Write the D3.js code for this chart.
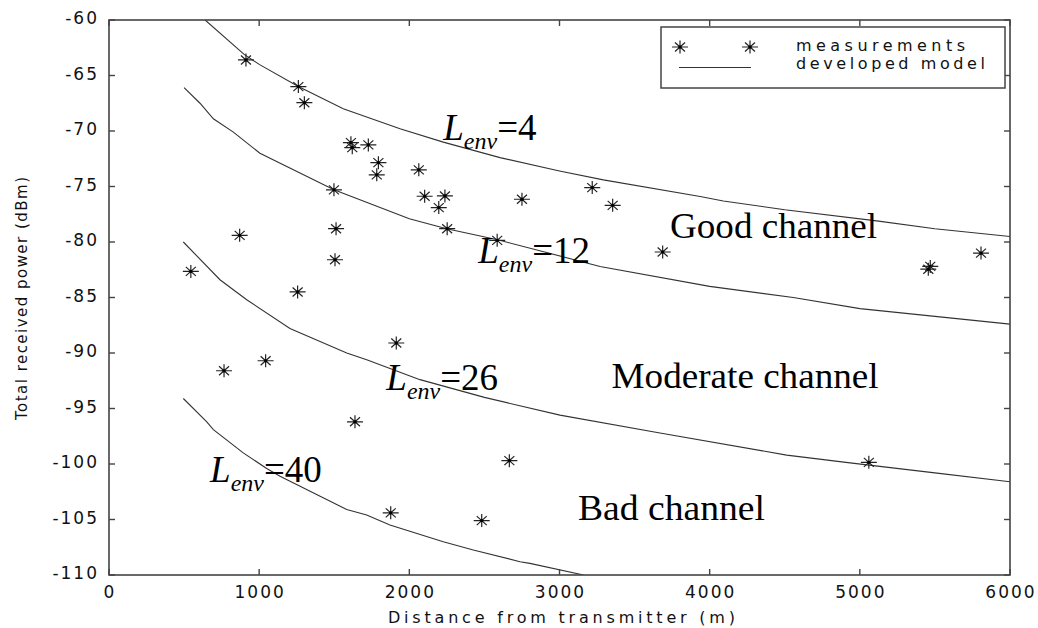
<!DOCTYPE html>
<html lang="en">
<head>
<meta charset="UTF-8">
<title>Total received power vs distance</title>
<script src="https://d3js.org/d3.v7.min.js"></script>
<style>
    body { margin: 0; background: #fff; }
    svg { display: block; }
    .tick-label { font-family: "DejaVu Sans", sans-serif; font-size: 17px; fill: #111; letter-spacing: 2px; }
    .sans { font-family: "DejaVu Sans", sans-serif; fill: #111; }
    .serif { font-family: "Liberation Serif", "Times New Roman", serif; fill: #000; }
</style>
</head>
<body>
<div id="chart"></div>
<script>
// measurement points: distance (m), received power (dBm)
const measDist = [912, 1261, 1301, 1611, 1620, 1727, 1794, 1783, 2063, 1498, 2102, 2237, 2196, 2252, 1512,
    870, 1505, 545, 2585, 2750, 3218, 3354, 3687, 1913, 1638, 2666, 1876, 2482, 5469, 5456, 5807, 5060,
    766, 1043, 1256];
const measPower = [-63.6, -66.0, -67.45, -71.05, -71.5, -71.25, -72.85, -73.95, -73.5, -75.3, -75.88, -75.85, -76.9, -78.8, -78.8,
    -79.4, -81.6, -82.65, -79.85, -76.15, -75.1, -76.7, -80.9, -89.1, -96.2, -99.7, -104.4, -105.1, -82.2, -82.45, -81.0, -99.85,
    -91.6, -90.7, -84.5];

// developed model curves
const envValues = [4, 12, 26, 40];
const modelDist = [
    [640, 900, 1000, 1261, 1560, 1938, 2226, 2604, 3000, 3292, 3937, 4091, 4500, 5112, 5500, 6000],
    [500, 606, 695, 828, 1005, 1498, 2000, 2249, 2588, 3270, 4000, 4557, 5001, 6000],
    [495, 739, 917, 1205, 1583, 1716, 2071, 2500, 3003, 3669, 4513, 4935, 5500, 6000],
    [495, 651, 695, 894, 1050, 1139, 1583, 1716, 1871, 2226, 2426, 2737, 2803, 3160]
];
const modelPower = [
    [-60, -63.1, -64.0, -66.0, -68.0, -69.8, -71.0, -72.4, -73.6, -74.4, -75.9, -76.3, -77.1, -78.1, -78.8, -79.5],
    [-66.1, -67.5, -68.9, -70.1, -72.0, -75.3, -77.9, -78.8, -79.8, -82.2, -84.0, -85.0, -86.0, -87.4],
    [-80.0, -83.4, -85.2, -87.8, -90.0, -90.6, -92.4, -94.0, -95.6, -97.2, -99.2, -99.9, -100.8, -101.6],
    [-94.1, -96.2, -96.9, -99.0, -100.4, -101.1, -104.1, -104.6, -105.5, -107.0, -107.75, -108.8, -108.95, -110]
];
// where each L_env label sits (data units: distance, power at baseline)
const envLabelDist = [2226, 2459, 1847, 673];
const envLabelPower = [-70.8, -81.9, -93.3, -101.6];

const channelNames = ["Good channel", "Moderate channel", "Bad channel"];
const channelDist = [3736, 3347, 3123];
const channelPower = [-79.67, -93.18, -105.0];

const xTicks = [0, 1000, 2000, 3000, 4000, 5000, 6000];
const yTicks = [-110, -105, -100, -95, -90, -85, -80, -75, -70, -65, -60];

const W = 1038, H = 628;
const m = { left: 109, top: 20, right: 1010, bottom: 575 };

const x = d3.scaleLinear().domain([0, 6000]).range([m.left, m.right]);
const y = d3.scaleLinear().domain([-110, -60]).range([m.bottom, m.top]);

const svg = d3.select("#chart").append("svg")
    .attr("width", W).attr("height", H);

svg.append("defs").append("clipPath").attr("id", "plot-clip")
    .append("rect")
    .attr("x", m.left).attr("y", m.top)
    .attr("width", m.right - m.left).attr("height", m.bottom - m.top);

// model lines
const line = d3.line().x(d => x(d[0])).y(d => y(d[1]));
svg.append("g").attr("clip-path", "url(#plot-clip)")
    .selectAll("path")
    .data(modelDist.map((ds, i) => ds.map((d, j) => [d, modelPower[i][j]])))
    .join("path")
    .attr("d", line)
    .attr("fill", "none")
    .attr("stroke", "#333")
    .attr("stroke-width", 1.1);

// asterisk marker
function star(sel) {
    sel.append("path")
        .attr("d", "M-8,0H8M0,-6.5V6.5M-5,-4.5L5,4.5M-5,4.5L5,-4.5")
        .attr("stroke", "#222").attr("stroke-width", 1.2).attr("fill", "none");
    sel.append("circle").attr("r", 1.6).attr("fill", "#000");
}

svg.append("g")
    .selectAll("g")
    .data(measDist.map((d, i) => [d, measPower[i]]))
    .join("g")
    .attr("transform", d => `translate(${x(d[0])},${y(d[1])})`)
    .call(star);

// frame and inward ticks on all four sides
const axisCol = "#444";
svg.append("rect")
    .attr("x", m.left).attr("y", m.top)
    .attr("width", m.right - m.left).attr("height", m.bottom - m.top)
    .attr("fill", "none").attr("stroke", axisCol).attr("stroke-width", 1.6);

const ticks = svg.append("g").attr("stroke", axisCol).attr("stroke-width", 1.4);
xTicks.forEach(t => {
    ticks.append("line").attr("x1", x(t)).attr("x2", x(t)).attr("y1", m.bottom).attr("y2", m.bottom - 6);
    ticks.append("line").attr("x1", x(t)).attr("x2", x(t)).attr("y1", m.top).attr("y2", m.top + 6);
});
yTicks.forEach(t => {
    ticks.append("line").attr("x1", m.left).attr("x2", m.left + 6).attr("y1", y(t)).attr("y2", y(t));
    ticks.append("line").attr("x1", m.right).attr("x2", m.right - 6).attr("y1", y(t)).attr("y2", y(t));
});

svg.append("g").selectAll("text")
    .data(xTicks).join("text")
    .attr("class", "tick-label")
    .attr("x", d => x(d) + 1).attr("y", m.bottom + 23)
    .attr("text-anchor", "middle")
    .text(d => d);

svg.append("g").selectAll("text")
    .data(yTicks).join("text")
    .attr("class", "tick-label")
    .attr("x", m.left - 10).attr("y", d => y(d) + 4)
    .attr("text-anchor", "end")
    .text(d => d);

// axis titles
svg.append("text").attr("class", "sans")
    .attr("x", 388).attr("y", 623)
    .attr("font-size", 16)
    .attr("textLength", 347).attr("lengthAdjust", "spacing")
    .text("Distance from transmitter (m)");

svg.append("text").attr("class", "sans")
    .attr("transform", "translate(27,298.5) rotate(-90)")
    .attr("text-anchor", "middle")
    .attr("font-size", 15)
    .attr("textLength", 243).attr("lengthAdjust", "spacing")
    .text("Total received power (dBm)");

// L_env labels
envValues.forEach((v, i) => {
    const t = svg.append("text").attr("class", "serif")
        .attr("x", x(envLabelDist[i])).attr("y", y(envLabelPower[i]))
        .attr("font-size", 37);
    t.append("tspan").attr("font-style", "italic").text("L");
    t.append("tspan").attr("font-style", "italic").attr("font-size", 24).attr("dy", 9).text("env");
    t.append("tspan").attr("dy", -9).text("=" + v);
});

// channel region labels
const chanLen = [207, 267, 187];
channelNames.forEach((c, i) => {
    svg.append("text").attr("class", "serif")
        .attr("x", x(channelDist[i])).attr("y", y(channelPower[i]))
        .attr("font-size", 36)
        .attr("textLength", chanLen[i]).attr("lengthAdjust", "spacingAndGlyphs")
        .text(c);
});

// legend
const lg = svg.append("g");
lg.append("rect")
    .attr("x", 661).attr("y", 27).attr("width", 344).attr("height", 61)
    .attr("fill", "#fff").attr("stroke", axisCol).attr("stroke-width", 1.5);
lg.append("g").attr("transform", "translate(680,47)").call(star);
lg.append("g").attr("transform", "translate(750,47)").call(star);
lg.append("line").attr("x1", 679).attr("x2", 751).attr("y1", 67.5).attr("y2", 67.5)
    .attr("stroke", "#333").attr("stroke-width", 1.1);
lg.append("text").attr("class", "sans").attr("x", 796).attr("y", 51)
    .attr("font-size", 16).attr("textLength", 169).attr("lengthAdjust", "spacing")
    .text("measurements");
lg.append("text").attr("class", "sans").attr("x", 796).attr("y", 69)
    .attr("font-size", 16).attr("textLength", 189).attr("lengthAdjust", "spacing")
    .text("developed model");
</script>
</body>
</html>
